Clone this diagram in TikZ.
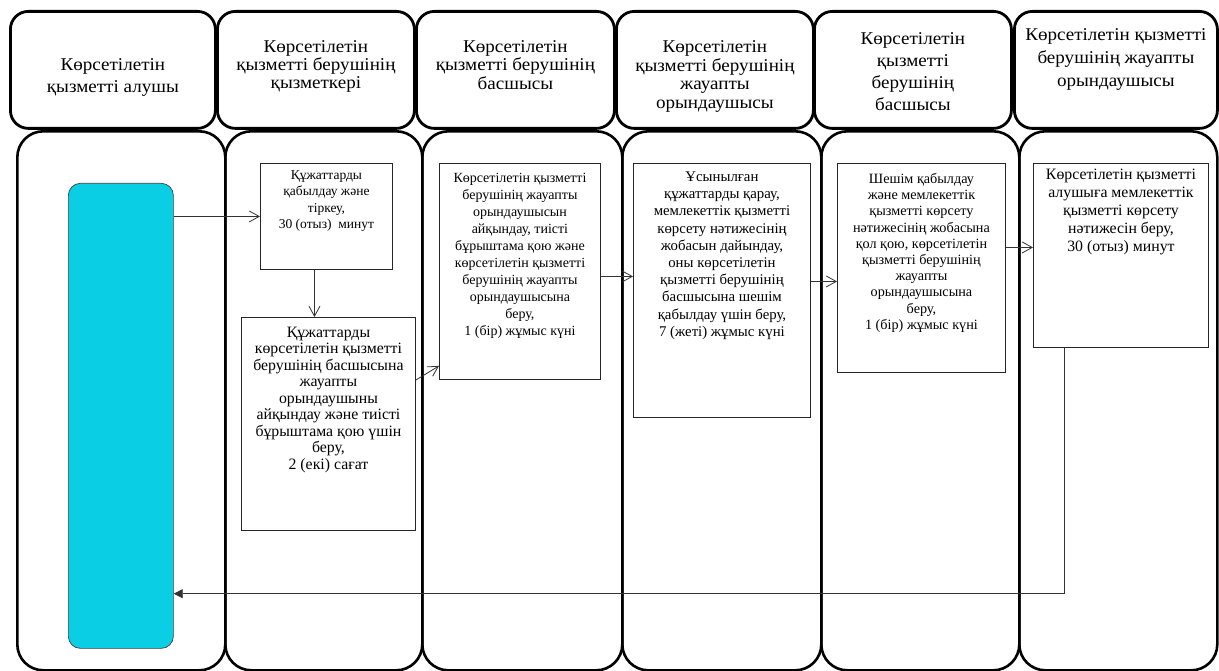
\documentclass[tikz,border=0pt]{standalone}
\usepackage{fontspec}
\setmainfont{Liberation Serif}
\newfontfamily\hdrfont[FakeStretch=1.06]{Liberation Serif}
\usetikzlibrary{arrows.meta}
\newcommand{\celltext}[6]{\parbox[c][#2][t]{#1}{\centering\fontsize{#3}{#4}\selectfont\rule{0pt}{#5}#6\par}}
\definecolor{clientfill}{RGB}{10,206,228}
\tikzset{
  hdr/.style={draw=black, line width=2.8pt, rounded corners=18pt, inner sep=0pt, anchor=north west, font=\hdrfont},
  lane/.style={draw=black, line width=2.6pt, rounded corners=26pt, inner sep=0pt, anchor=north west},
  client/.style={draw=black!75, line width=0.7pt, fill=clientfill, rounded corners=12pt, inner sep=0pt, anchor=north west},
  procbox/.style={draw=black!85, line width=0.9pt, inner sep=0pt, anchor=north west},
  arr/.style={draw=black!80, line width=0.8pt, -{Straight Barb[length=10pt,width=11pt]}},
  arrf/.style={draw=black!80, line width=0.8pt, -{Triangle[length=9pt,width=9pt]}}
}
\begin{document}
\begin{tikzpicture}[x=1pt, y=-1pt]
\useasboundingbox (0,0) rectangle (1219,671);
% headers
\node[hdr] (h1) at (9,10) {\celltext{205pt}{117pt}{18}{22}{59pt}{Көрсетілетін\\қызметті алушы}};
\node[hdr] (h2) at (216,10) {\celltext{197pt}{117pt}{18}{18}{41pt}{Көрсетілетін\\қызметті берушінің\\қызметкері}};
\node[hdr] (h3) at (415,10) {\celltext{198pt}{117pt}{18}{18.5}{41pt}{Көрсетілетін\\қызметті берушінің\\басшысы}};
\node[hdr] (h4) at (615,10) {\celltext{197pt}{117pt}{18}{18.7}{41pt}{Көрсетілетін\\қызметті берушінің\\жауапты\\орындаушысы}};
\node[hdr] (h5) at (813,10) {\celltext{197pt}{117pt}{18}{22}{33pt}{Көрсетілетін\\қызметті\\берушінің\\басшысы}};
\node[hdr] (h6) at (1013,10) {\celltext{203pt}{117pt}{18}{23}{29pt}{Көрсетілетін қызметті\\берушінің жауапты\\орындаушысы}};
% lanes
\node[lane, minimum width=208pt, minimum height=539pt] (l1) at (16,130) {};
\node[lane, minimum width=197pt, minimum height=539pt] (l2) at (224,130) {};
\node[lane, minimum width=200pt, minimum height=539pt] (l3) at (421,130) {};
\node[lane, minimum width=199pt, minimum height=539pt] (l4) at (621,130) {};
\node[lane, minimum width=198pt, minimum height=539pt] (l5) at (820,130) {};
\node[lane, minimum width=198pt, minimum height=539pt] (l6) at (1018,130) {};
% client bar
\node[client, minimum width=105pt, minimum height=465pt] (cy) at (68,183) {};
% process boxes
\node[procbox] (b1) at (260,163) {\celltext{132pt}{106pt}{13.5}{16.3}{16pt}{Құжаттарды\\қабылдау және\\тіркеу,\\30 (отыз)~~минут}};
\node[procbox] (b2) at (241,317) {\celltext{174pt}{213pt}{15.8}{16.5}{20pt}{Құжаттарды\\көрсетілетін қызметті\\берушінің басшысына\\жауапты\\орындаушыны\\айқындау және тиісті\\бұрыштама қою үшін\\беру,\\2 (екі) сағат}};
\node[procbox] (b3) at (439,163) {\celltext{161pt}{216pt}{14}{17}{19pt}{Көрсетілетін қызметті\\берушінің жауапты\\орындаушысын\\айқындау, тиісті\\бұрыштама қою және\\көрсетілетін қызметті\\берушінің жауапты\\орындаушысына\\беру,\\1 (бір) жұмыс күні}};
\node[procbox] (b4) at (633,163) {\celltext{177pt}{254pt}{14.8}{17.2}{18pt}{Ұсынылған\\құжаттарды қарау,\\мемлекеттік қызметті\\көрсету нәтижесінің\\жобасын дайындау,\\оны көрсетілетін\\қызметті берушінің\\басшысына шешім\\қабылдау үшін беру,\\7 (жеті) жұмыс күні}};
\node[procbox] (b5) at (837,163) {\celltext{168pt}{209pt}{14.2}{16.2}{20pt}{Шешім қабылдау\\және мемлекеттік\\қызметті көрсету\\нәтижесінің жобасына\\қол қою, көрсетілетін\\қызметті берушінің\\жауапты\\орындаушысына\\беру,\\1 (бір) жұмыс күні}};
\node[procbox] (b6) at (1033,163) {\celltext{175pt}{184pt}{15.8}{18}{16pt}{Көрсетілетін қызметті\\алушыға мемлекеттік\\қызметті көрсету\\нәтижесін беру,\\30 (отыз) минут}};
% connectors
\draw[arr] (b1.west -| cy.east) -- (b1.west);
\draw[arr] ([xshift=-12pt]b1.south) -- ([xshift=-12pt]b1.south |- b2.north);
\draw[arr] ([yshift=-63pt]b2.north east) -- ([yshift=14pt]b3.south west);
\draw[arr] ([yshift=-5pt]b3.east) -- ([yshift=-5pt]b3.east -| b4.west);
\draw[arr] ([yshift=9pt]b4.east) -- ([yshift=9pt]b4.east -| b5.west);
\draw[arr] ([yshift=20.5pt]b5.east) -- ([yshift=20.5pt]b5.east -| b6.west);
\draw[arrf] ([xshift=-56.5pt]b6.south) |- ([yshift=55pt]cy.south east);
\end{tikzpicture}
\end{document}
